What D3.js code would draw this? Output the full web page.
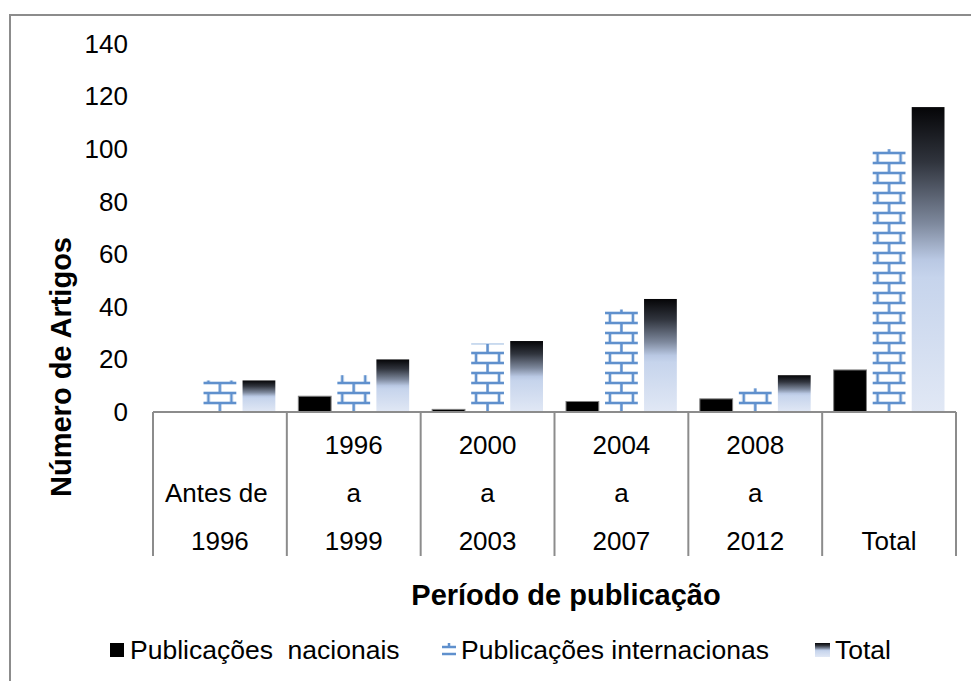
<!DOCTYPE html>
<meta charset="utf-8">
<head>
<style>
  body { margin: 0; background: #fff; }
  text { font-family: "Liberation Sans", Arial, sans-serif; fill: #000; }
</style>
</head>
<body>
<div id="chart"></div>
<script src="https://cdn.jsdelivr.net/npm/d3@7"></script>
<script>

var categories = [
    ["", "Antes de ", "1996"],
    ["1996", "a", "1999"],
    ["2000", "a", "2003"],
    ["2004", "a", "2007"],
    ["2008", "a", "2012"],
    ["", "", "Total"]
];
var nacionais = [0, 6, 1, 4, 5, 16];
var internacionais = [12, 14, 26, 39, 9, 100];
var totais = [12, 20, 27, 43, 14, 116];
var seriesNames = ["Publicações  nacionais", "Publicações internacionas", "Total"];
var yTicks = [0, 20, 40, 60, 80, 100, 120, 140];

var width = 971,
    height = 681,
    axisY = 412,
    topY = 44,
    left = 153,
    right = 956,
    tableBottom = 556;

var brick_color = '#5f90cd',
    line_color = '#8c8c8c';

var svg = d3.select("#chart").append("svg")
    .attr("width", width)
    .attr("height", height);

var defs = svg.append("defs");

// gradient for the Total series (dark on top, pale blue below)
var grad = defs.append("linearGradient")
    .attr("id", "totalGrad")
    .attr("x1", 0).attr("y1", 0)
    .attr("x2", 0).attr("y2", 1);
[[0, '#050507'], [0.18, '#30343d'], [0.38, '#7d889c'], [0.5, '#b9c8e3'],
 [0.56, '#c6d4ec'], [1, '#e1e8f5']].forEach(function(s) {
    grad.append("stop").attr("offset", s[0]).attr("stop-color", s[1]);
});

// outer frame
svg.append("rect")
    .attr("x", 10).attr("y", 15)
    .attr("width", 980).attr("height", 700)
    .attr("fill", "none")
    .attr("stroke", line_color)
    .attr("stroke-width", 2);

var x = d3.scaleBand()
    .domain(d3.range(categories.length))
    .range([left, right])
    .padding(0);

var xi = d3.scaleBand()
    .domain([0, 1, 2])
    .range([11.5, x.bandwidth() - 11.5])
    .paddingInner(0.16)
    .paddingOuter(0);

var y = d3.scaleLinear()
    .domain([0, 140])
    .range([axisY, topY]);

// y axis labels only
var yAxis = svg.append("g")
    .attr("transform", "translate(128,0)")
    .call(d3.axisLeft(y).tickValues(yTicks).tickSize(0).tickPadding(0));
yAxis.select(".domain").remove();
yAxis.selectAll("text")
    .style("font-family", '"Liberation Sans", Arial, sans-serif')
    .style("font-size", "26px")
    .attr("fill", "#000");

// brick pattern, one per bar so it lines up with the bar's bottom centre
var bw = 23, bh = 20;
function brickPattern(id, px, py, w, h, lw) {
    var p = defs.append("pattern")
        .attr("id", id)
        .attr("patternUnits", "userSpaceOnUse")
        .attr("width", w).attr("height", h)
        .attr("patternTransform", "translate(" + px + "," + py + ")");
    p.append("rect").attr("width", w).attr("height", h).attr("fill", "#fff");
    var g = p.append("g").attr("stroke", brick_color).attr("stroke-width", lw);
    [0, h / 2, h].forEach(function(yy) {
        g.append("line").attr("x1", 0).attr("x2", w).attr("y1", yy).attr("y2", yy);
    });
    g.append("line").attr("x1", 0).attr("x2", 0).attr("y1", 0).attr("y2", h / 2);
    g.append("line").attr("x1", w).attr("x2", w).attr("y1", 0).attr("y2", h / 2);
    g.append("line").attr("x1", w / 2).attr("x2", w / 2).attr("y1", h / 2).attr("y2", h);
}

internacionais.forEach(function(v, i) {
    var cx = x(i) + xi(1) + xi.bandwidth() / 2;
    brickPattern("brick" + i, cx - bw / 2, axisY + 1, bw, bh, 2.6);
});

var bars = svg.append("g");

bars.selectAll("rect.nac")
    .data(nacionais.map(function(v, i) { return {v: v, i: i}; }).filter(function(d) { return d.v > 0; }))
  .enter().append("rect")
    .attr("class", "nac")
    .attr("x", function(d) { return x(d.i) + xi(0); })
    .attr("width", xi.bandwidth())
    .attr("y", function(d) { return y(d.v); })
    .attr("height", function(d) { return axisY - y(d.v); })
    .attr("fill", "#000")
    .attr("stroke", "#808080")
    .attr("stroke-width", 1);

bars.selectAll("rect.int")
    .data(internacionais)
  .enter().append("rect")
    .attr("class", "int")
    .attr("x", function(d, i) { return x(i) + xi(1); })
    .attr("width", xi.bandwidth())
    .attr("y", function(d) { return y(d); })
    .attr("height", function(d) { return axisY - y(d); })
    .attr("fill", function(d, i) { return "url(#brick" + i + ")"; });

bars.selectAll("rect.tot")
    .data(totais)
  .enter().append("rect")
    .attr("class", "tot")
    .attr("x", function(d, i) { return x(i) + xi(2); })
    .attr("width", xi.bandwidth())
    .attr("y", function(d) { return y(d); })
    .attr("height", function(d) { return axisY - y(d); })
    .attr("fill", "url(#totalGrad)");

// x axis line and the category table lines
svg.append("line")
    .attr("x1", left).attr("x2", right)
    .attr("y1", axisY).attr("y2", axisY)
    .attr("stroke", line_color).attr("stroke-width", 2);

svg.selectAll("line.sep")
    .data(d3.range(categories.length + 1))
  .enter().append("line")
    .attr("class", "sep")
    .attr("x1", function(i) { return left + i * x.step(); })
    .attr("x2", function(i) { return left + i * x.step(); })
    .attr("y1", axisY).attr("y2", tableBottom)
    .attr("stroke", line_color).attr("stroke-width", 2);

var lineBase = [454, 502, 550];
categories.forEach(function(lines, i) {
    lines.forEach(function(t, k) {
        if (!t) return;
        svg.append("text")
            .attr("x", x(i) + x.bandwidth() / 2)
            .attr("y", lineBase[k])
            .attr("text-anchor", "middle")
            .style("font-size", "26px")
            .style("white-space", "pre")
            .text(t);
    });
});

// axis titles
svg.append("text")
    .attr("x", 566).attr("y", 605)
    .attr("text-anchor", "middle")
    .style("font-size", "29px")
    .style("font-weight", "bold")
    .text("Período de publicação");

svg.append("text")
    .attr("transform", "translate(71,367) rotate(-90)")
    .attr("text-anchor", "middle")
    .style("font-size", "29px")
    .style("font-weight", "bold")
    .text("Número de Artigos");

// legend
var legendX = [110, 441, 815];
var legendY = 650;

svg.append("rect")
    .attr("x", legendX[0]).attr("y", legendY - 7)
    .attr("width", 14).attr("height", 14)
    .attr("fill", "#000");

var lg = svg.append("g").attr("stroke", brick_color).attr("stroke-width", 2.5);
lg.append("line").attr("x1", legendX[1] + 1).attr("x2", legendX[1] + 15)
    .attr("y1", legendY - 3).attr("y2", legendY - 3);
lg.append("line").attr("x1", legendX[1] + 1).attr("x2", legendX[1] + 15)
    .attr("y1", legendY + 4).attr("y2", legendY + 4);
lg.append("line").attr("x1", legendX[1] + 8).attr("x2", legendX[1] + 8)
    .attr("y1", legendY - 7).attr("y2", legendY - 3);

svg.append("rect")
    .attr("x", legendX[2]).attr("y", legendY - 7)
    .attr("width", 15).attr("height", 14)
    .attr("fill", "url(#totalGrad)");

seriesNames.forEach(function(name, i) {
    svg.append("text")
        .attr("x", legendX[i] + 20)
        .attr("y", legendY + 9)
        .style("font-size", "26.5px")
        .style("white-space", "pre")
        .text(name);
});

</script>
</body>
